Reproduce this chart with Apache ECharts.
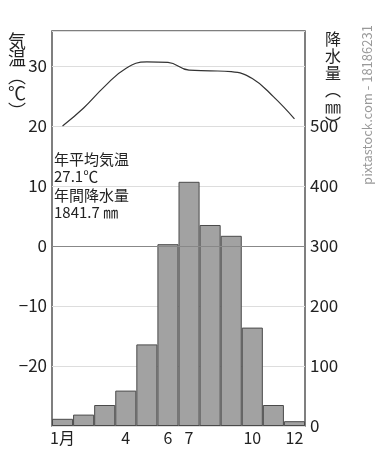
<!DOCTYPE html>
<html><head><meta charset="utf-8">
<script src="https://cdn.jsdelivr.net/npm/echarts@6/dist/echarts.min.js"></script>
<style>html,body{margin:0;padding:0;background:#fff}#c{width:375px;height:450px}</style>
</head><body><div id="c"></div>
<script>
const months = ['1月','2','3','4','5','6','7','8','9','10','11','12'];
const shownMonths = ['1月','4','6','7','10','12'];
const temperature = [20.0, 23.0, 26.6, 29.6, 30.7, 30.6, 29.3, 29.2, 29.05, 27.9, 24.9, 21.2];
const precipitation = [12, 19, 35, 59, 136, 303, 407, 335, 317, 164, 35, 8];
const tempTicks = [30, 20, 10, 0, -10, -20];
const precTicks = [500, 400, 300, 200, 100, 0];

const F = '"Noto Sans CJK JP","Noto Sans",sans-serif';
const chart = echarts.init(document.getElementById('c'));
chart.setOption({
  animation: false,
  grid: {left: 52, right: 70, top: 31, bottom: 24, show: true, borderColor: '#555', borderWidth: 1.5, backgroundColor: 'transparent'},
  xAxis: {
    type: 'category', data: months, boundaryGap: true,
    axisLine: {show: false}, axisTick: {show: false},
    axisLabel: {interval: 0, fontFamily: F, fontSize: 16, color: '#222', margin: 4,
      formatter: v => shownMonths.includes(v) ? v : ''}
  },
  yAxis: [
    {type: 'value', min: -30, max: 35.8333, interval: 10, position: 'left',
     axisLine: {show: false}, axisTick: {show: false},
     axisLabel: {fontFamily: F, fontSize: 17, color: '#222', margin: 5,
       formatter: v => tempTicks.includes(v) ? (v < 0 ? '\u2212' + Math.abs(v) : String(v)) : ''},
     splitLine: {show: true, lineStyle: {color: '#ddd', width: 1}}},
    {type: 'value', min: 0, max: 658.333, interval: 100, position: 'right',
     axisLine: {show: false}, axisTick: {show: false},
     axisLabel: {fontFamily: F, fontSize: 17, color: '#222', margin: 5,
       formatter: v => precTicks.includes(v) ? String(v) : ''},
     splitLine: {show: false}}
  ],
  series: [
    {type: 'bar', yAxisIndex: 1, data: precipitation, barCategoryGap: '0%',
     itemStyle: {color: '#a2a2a2', borderColor: '#4a4a4a', borderWidth: 1}, z: 2},
    {type: 'line', yAxisIndex: 0, data: temperature, smooth: 0.45, symbol: 'none',
     lineStyle: {color: '#333', width: 1.2}, z: 3,
     markLine: {silent: true, symbol: 'none', label: {show: false},
       lineStyle: {color: '#888', width: 1, type: 'solid'}, data: [{yAxis: 0}]}}
  ],
  graphic: [
    {type: 'text', left: 8, top: 32, style: {text: '気\n温\n︵\n℃\n︶', font: '18px ' + F, fill: '#222', lineHeight: 17.5, align: 'left'}},
    {type: 'text', left: 325, top: 30, style: {text: '降\n水\n量\n︵\n㎜\n︶', font: '16px ' + F, fill: '#222', lineHeight: 17}},
    {type: 'text', left: 54, top: 152, style: {text: '年平均気温', font: '15px ' + F, fill: '#222'}},
    {type: 'text', left: 54, top: 169, style: {text: '27.1℃', font: '15px ' + F, fill: '#222'}},
    {type: 'text', left: 54, top: 188, style: {text: '年間降水量', font: '15px ' + F, fill: '#222'}},
    {type: 'text', left: 54, top: 205, style: {text: '1841.7 ㎜', font: '15px ' + F, fill: '#222'}},
    {type: 'text', x: 367, y: 105, rotation: Math.PI / 2, style: {text: 'pixtastock.com - 18186231', font: '13px ' + F, fill: '#999', align: 'center', verticalAlign: 'middle'}}
  ]
});
</script></body></html>
